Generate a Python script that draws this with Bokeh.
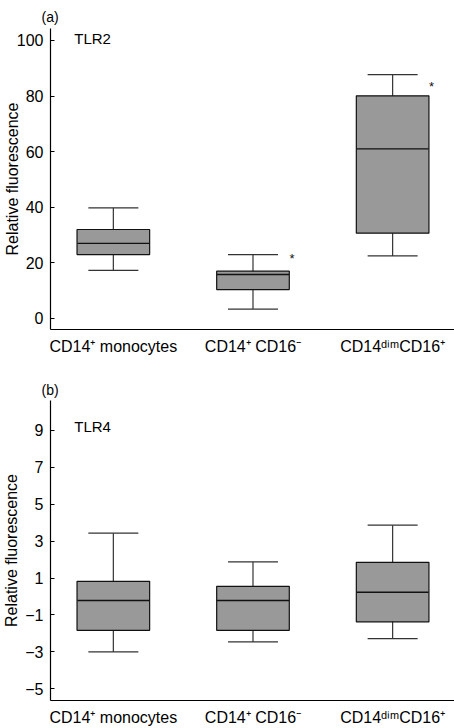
from bokeh.plotting import figure
from bokeh.layouts import column
from bokeh.models import Range1d, FixedTicker, Label, ColumnDataSource, Whisker, TeeHead
from bokeh.embed import file_html
from bokeh.resources import INLINE
from bokeh.core.properties import value

# ---------------- data ----------------
categories = ["CD14\u207a monocytes", "CD14\u207a CD16\u207b", "CD14\u1d48\u2071\u1d50CD16\u207a"]
positions = [1, 2, 3]

# (a) TLR2
tlr2_lower = [17.3, 3.4, 22.5]
tlr2_q1 = [23.0, 10.4, 30.7]
tlr2_median = [27.0, 15.8, 61.0]
tlr2_q3 = [32.0, 17.0, 80.1]
tlr2_upper = [39.8, 23.0, 87.7]
tlr2_star_pos = [2, 3]
tlr2_star_y = [21.5, 83.5]
tlr2_ticks = [0, 20, 40, 60, 80, 100]

# (b) TLR4
tlr4_lower = [-3.0, -2.46, -2.28]
tlr4_q1 = [-1.83, -1.83, -1.37]
tlr4_median = [-0.22, -0.22, 0.23]
tlr4_q3 = [0.82, 0.55, 1.85]
tlr4_upper = [3.43, 1.87, 3.86]
tlr4_ticks = [-5, -3, -1, 1, 3, 5, 7, 9]

FONT = "Liberation Sans"
BOX_FILL = "#999999"
LINE = "#111111"
WHISKER = "#333333"


def make_panel(tag, name, lower, q1, med, q3, upper, yr, ticks, height,
               top_border, bottom_border, name_y, label_standoff, title_standoff,
               star_pos=None, star_y=None):
    p = figure(width=454, height=height,
               x_range=Range1d(0.55, 3.443), y_range=Range1d(*yr),
               output_backend="svg", toolbar_location=None, title=tag,
               min_border_left=49, min_border_right=0,
               min_border_top=top_border, min_border_bottom=bottom_border)
    p.outline_line_color = None
    p.xgrid.visible = False
    p.ygrid.visible = False
    p.background_fill_color = "white"
    p.border_fill_color = "white"

    p.title.text_font = FONT
    p.title.text_font_size = "14px"
    p.title.text_font_style = "normal"
    p.title.text_color = "black"
    p.title.align = "left"
    p.title.offset = -9
    p.title.standoff = title_standoff

    src = ColumnDataSource(dict(x=positions, lower=lower, q1=q1, med=med, q3=q3, upper=upper))

    w = Whisker(base="x", lower="lower", upper="upper", source=src, dimension="height",
                line_color=WHISKER, line_width=1.2, level="underlay",
                upper_head=TeeHead(size=50, line_color=WHISKER, line_width=1.2),
                lower_head=TeeHead(size=50, line_color=WHISKER, line_width=1.2))
    p.add_layout(w)

    p.vbar(x="x", width=0.52, bottom="q1", top="q3", source=src,
           fill_color=BOX_FILL, line_color=LINE, line_width=1.2)
    p.scatter(x="x", y="med", source=src, marker="dash", size=72,
              line_color=LINE, line_width=1.4)

    if star_pos is not None:
        p.text(x=star_pos, y=star_y, text=["*"] * len(star_pos), x_offset=39,
               text_font=value(FONT), text_font_size="13px",
               text_baseline="middle", text_align="center", text_color=LINE)

    p.add_layout(Label(x=0.72, y=name_y, text=name, text_font=FONT,
                       text_font_size="15px", text_baseline="middle",
                       text_align="left", text_color="black"))

    # x axis
    xa = p.xaxis[0]
    xa.ticker = FixedTicker(ticks=positions)
    xa.major_label_overrides = {pos: c for pos, c in zip(positions, categories)}
    xa.major_tick_in = 0
    xa.major_tick_out = 0
    xa.minor_tick_line_color = None
    xa.major_label_standoff = 8
    xa.major_label_text_font = FONT
    xa.major_label_text_font_size = "16px"
    xa.major_label_text_color = "black"
    xa.axis_line_color = "black"
    xa.axis_line_width = 1.2

    # y axis
    ya = p.yaxis[0]
    ya.ticker = FixedTicker(ticks=ticks)
    ya.major_label_overrides = {t: (str(t) if t >= 0 else "\u2212" + str(-t)) for t in ticks}
    ya.major_tick_in = 4
    ya.major_tick_out = 0
    ya.major_tick_line_color = "black"
    ya.minor_tick_line_color = None
    ya.major_label_standoff = 7
    ya.major_label_text_font = FONT
    ya.major_label_text_font_size = "16px"
    ya.major_label_text_color = "black"
    ya.axis_line_color = "black"
    ya.axis_line_width = 1.2
    ya.axis_label = "Relative fluorescence"
    ya.axis_label_text_font = FONT
    ya.axis_label_text_font_size = "16px"
    ya.axis_label_text_font_style = "normal"
    ya.axis_label_text_color = "black"
    ya.axis_label_standoff = label_standoff
    return p


pa = make_panel("(a)", "TLR2", tlr2_lower, tlr2_q1, tlr2_median, tlr2_q3, tlr2_upper,
                (-3.96, 104.3), tlr2_ticks, 360, 28, 31, 100.7, -7, 8,
                tlr2_star_pos, tlr2_star_y)
pb = make_panel("(b)", "TLR4", tlr4_lower, tlr4_q1, tlr4_median, tlr4_q3, tlr4_upper,
                (-5.63, 10.61), tlr4_ticks, 368, 40, 26, 9.2, 2, 5)

layout = column(pa, pb, spacing=0)
open("out.html", "w").write(file_html(layout, INLINE))
